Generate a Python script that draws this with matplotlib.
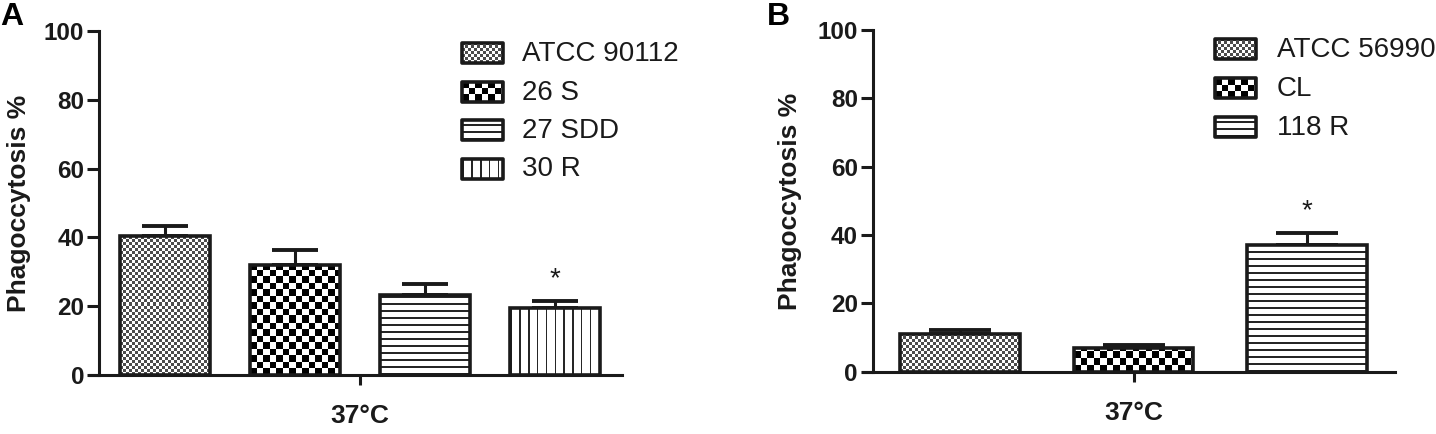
import numpy as np
import matplotlib
matplotlib.use("Agg")
import matplotlib.pyplot as plt
from matplotlib.patches import Rectangle

plt.rcParams['font.family'] = ['Liberation Sans', 'DejaVu Sans']

# data
group_label = '37°C'
yticks = [0, 20, 40, 60, 80, 100]
ylabel = 'Phagoccytosis %'

a_labels = ['ATCC 90112', '26 S', '27 SDD', '30 R']
a_values = [40.5, 32.0, 23.2, 19.6]
a_errors = [2.9, 4.2, 3.2, 1.8]
a_patterns = ['fine', 'coarse', 'hlines', 'vlines']
a_star = [False, False, False, True]

b_labels = ['ATCC 56990', 'CL', '118 R']
b_values = [11.0, 6.8, 37.1]
b_errors = [1.2, 1.0, 3.4]
b_patterns = ['fine', 'coarse', 'hlines']
b_star = [False, False, True]

INK = '#1a1a1a'
W, H = 1436, 434


def pattern_array(kind, w, h):
    yy, xx = np.mgrid[0:h, 0:w].astype(float)
    if kind == 'fine':
        arr = ((xx // 3 + yy // 3) % 2) * 0.7 + 0.3
    elif kind == 'coarse':
        arr = ((xx // 6.5 + yy // 6.5) % 2).astype(float)
    elif kind == 'hlines':
        arr = np.where((yy % 7.0) < 1.5, 0.15, 1.0)
    else:
        arr = np.where((xx % 8.8) < 1.5, 0.15, 1.0)
    return arr


def texture(ax, patch, kind, zorder):
    """Fill a patch with a pixel pattern clipped to its outline."""
    bb = patch.get_window_extent()
    w = max(int(round(bb.width)), 1)
    h = max(int(round(bb.height)), 1)
    inv = ax.transData.inverted()
    (x0, y0), (x1, y1) = inv.transform([[bb.x0, bb.y0], [bb.x1, bb.y1]])
    ax.imshow(pattern_array(kind, w, h), extent=(x0, x1, y0, y1), origin='lower',
              cmap='gray', vmin=0, vmax=1, interpolation='nearest',
              aspect='auto', clip_path=patch, zorder=zorder)


def panel(fig, rect, values, errors, patterns, stars, xlim, spine_x, tick_x):
    ax = fig.add_axes(rect)
    ax.set_xlim(*xlim)
    ax.set_ylim(0, 100)
    x = np.arange(len(values))
    bars = ax.bar(x, values, width=0.69, facecolor='none', edgecolor=INK,
                  linewidth=2.6, zorder=3)
    # bar width in pixels -> cap size (errorbar caps are 2*capsize wide)
    bar_px = ax.transData.transform([[0.69, 0], [0, 0]])
    bar_px = bar_px[0, 0] - bar_px[1, 0]
    ax.errorbar(x, values, yerr=[np.zeros(len(values)), errors], fmt='none',
                ecolor=INK, elinewidth=2.2, capthick=2.8,
                capsize=0.51 * bar_px / 2 * 72 / 100, zorder=2)
    for b, kind in zip(bars, patterns):
        texture(ax, b, kind, 2.5)
    for xi, v, e, s in zip(x, values, errors, stars):
        if s:
            ax.text(xi, v + e + 4.5, '*', ha='center', va='baseline',
                    fontsize=20, color=INK)

    for side in ('top', 'right'):
        ax.spines[side].set_visible(False)
    ax.spines['left'].set_position(('data', spine_x))
    ax.spines['left'].set_bounds(0, 100)
    for side in ('left', 'bottom'):
        ax.spines[side].set_linewidth(2.2)
        ax.spines[side].set_color(INK)
    ax.set_yticks(yticks)
    ax.set_xticks([tick_x], [group_label])
    ax.tick_params(axis='y', direction='out', length=8.6, width=2.2, pad=2,
                   color=INK, labelcolor=INK, labelsize=17.5)
    ax.tick_params(axis='x', direction='out', length=7, width=2.2, pad=14,
                   color=INK, labelcolor=INK, labelsize=19)
    for lab in ax.get_xticklabels() + ax.get_yticklabels():
        lab.set_fontweight('bold')
    ax.patch.set_visible(False)
    ax.set_xlim(*xlim)
    ax.set_ylim(0, 100)
    return ax


fig = plt.figure(figsize=(W / 100, H / 100), dpi=100)

panel(fig, [90 / W, (H - 375) / H, 532 / W, 344 / H],
      a_values, a_errors, a_patterns, a_star, (-0.577, 3.515), -0.508, 1.5)
panel(fig, [863 / W, (H - 371.7) / H, 532 / W, 341.7 / H],
      b_values, b_errors, b_patterns, b_star, (-0.559, 2.507), -0.503, 1.0)

# overlay in image pixel coordinates for letters, y labels and legends
ov = fig.add_axes([0, 0, 1, 1], zorder=5)
ov.set_xlim(0, W)
ov.set_ylim(H, 0)
ov.axis('off')

ov.text(0, 25, 'A', fontsize=23, fontweight='bold', color='black', va='baseline')
ov.text(767, 25, 'B', fontsize=23, fontweight='bold', color='black', va='baseline')
ov.text(19, 203, ylabel, rotation=90, ha='center', va='center',
        fontsize=19, fontweight='bold', color=INK)
ov.text(790, 201, ylabel, rotation=90, ha='center', va='center',
        fontsize=19, fontweight='bold', color=INK)


def legend(labels, patterns, x0, y_first, step, text_x):
    for i, (lab, kind) in enumerate(zip(labels, patterns)):
        yc = y_first + i * step
        r = Rectangle((x0, yc - 10), 41, 20, facecolor='none', edgecolor=INK,
                      linewidth=2.6, joinstyle='round', zorder=3)
        ov.add_patch(r)
        texture(ov, r, kind, 2)
        ov.text(text_x, yc + 1, lab, ha='left', va='center', fontsize=20,
                color=INK)


legend(a_labels, a_patterns, 462, 53, 38.5, 522)
legend(b_labels, b_patterns, 1215, 49, 39, 1277)

ov.set_xlim(0, W)
ov.set_ylim(H, 0)

fig.savefig('out.png', dpi=100)
